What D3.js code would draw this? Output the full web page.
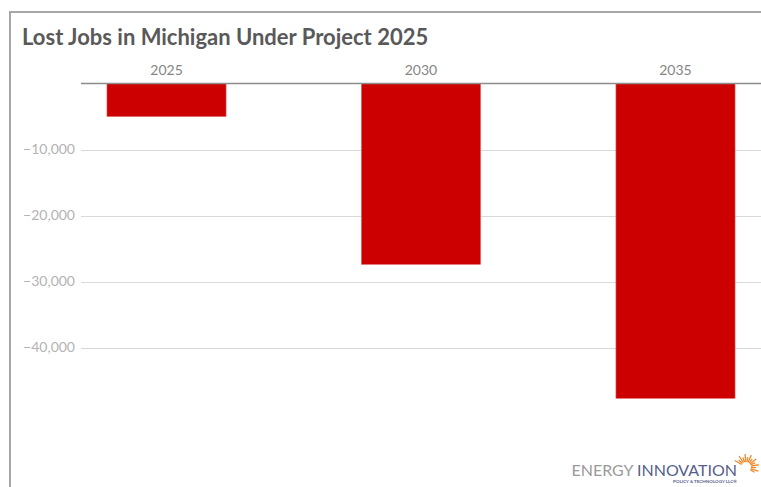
<!DOCTYPE html>
<html>
<head>
<meta charset="utf-8">
<script src="https://cdn.jsdelivr.net/npm/d3@7"></script>
<style>
  html, body { margin: 0; padding: 0; background: #fff; }
  #chart { width: 761px; height: 487px; }
</style>
</head>
<body>
<div id="chart"></div>
<script>
// Lost jobs in Michigan under Project 2025 (negative = jobs lost)
const years = ['2025', '2030', '2035'];
const lostJobs = [-5000, -27400, -47700];
const yTicks = [-10000, -20000, -30000, -40000];

(function(){
  const W = 761, H = 487;
  const svg = d3.select('#chart').append('svg').attr('width', W).attr('height', H);

  // outer frame (cropped at right/bottom)
  svg.append('rect').attr('x', 10).attr('y', 12).attr('width', 800).attr('height', 520)
    .attr('fill', '#fff').attr('stroke', '#a6a6a6').attr('stroke-width', 2);

  svg.append('text').attr('x', 22).attr('y', 45)
    .attr('font-family', 'Lato, "Open Sans", sans-serif').attr('font-weight', 700)
    .attr('font-size', '22px').attr('fill', '#595959')
    .text('Lost Jobs in Michigan Under Project 2025');

  const x = d3.scaleBand().domain(years).range([81, 761]).paddingInner(0.532).paddingOuter(0.102);
  const y = d3.scaleLinear().domain([0, -10000]).range([83.5, 149.5]);

  // gridlines
  const g = svg.append('g');
  g.selectAll('line.grid').data(yTicks).enter().append('line')
    .attr('x1', 81).attr('x2', 761)
    .attr('y1', d => Math.round(y(d)) + 0.5).attr('y2', d => Math.round(y(d)) + 0.5)
    .attr('stroke', '#d9d9d9').attr('stroke-width', 1);

  // y labels
  g.selectAll('text.ylab').data(yTicks).enter().append('text')
    .attr('x', 75).attr('y', d => y(d)).attr('dy', '0.35em')
    .attr('text-anchor', 'end').attr('font-family', 'Lato, sans-serif')
    .attr('font-size', '14px').attr('fill', '#b3b3b3')
    .text(d => d3.format(',')(d).replace('-', '\u2212'));

  // bars
  g.selectAll('rect.bar').data(years).enter().append('rect')
    .attr('x', d => x(d)).attr('width', x.bandwidth())
    .attr('y', y(0)).attr('height', (d, i) => y(lostJobs[i]) - y(0))
    .attr('fill', '#cc0000').attr('stroke', '#e06060').attr('stroke-width', 0.6);

  // zero axis line
  g.append('line').attr('x1', 81).attr('x2', 761).attr('y1', y(0)).attr('y2', y(0))
    .attr('stroke', '#8c8c8c').attr('stroke-width', 1.5);

  // category labels on top
  g.selectAll('text.xlab').data(years).enter().append('text')
    .attr('x', d => x(d) + x.bandwidth() / 2).attr('y', 75)
    .attr('text-anchor', 'middle').attr('font-family', 'Lato, sans-serif')
    .attr('font-size', '14px').attr('fill', '#858585')
    .text(d => d);

  // logo
  const logo = svg.append('g');
  const t = logo.append('text').attr('x', 737).attr('y', 476).attr('text-anchor', 'end')
    .attr('font-family', 'Lato, sans-serif').attr('font-size', '16px');
  t.append('tspan').attr('fill', '#9a9a9a').text('ENERGY ');
  t.append('tspan').attr('fill', '#55608c').text('INNOVATION');
  logo.append('text').attr('x', 737).attr('y', 483).attr('text-anchor', 'end')
    .attr('font-family', 'Lato, sans-serif').attr('font-size', '4.5px').attr('font-weight', 700)
    .attr('fill', '#55608c').text('POLICY & TECHNOLOGY LLC\u00ae');
  const cx = 746, cy = 467;
  const rays = d3.range(-150, 40, 14);
  logo.selectAll('line.ray').data(rays).enter().append('line')
    .attr('x1', a => cx + 5 * Math.cos(a * Math.PI / 180))
    .attr('y1', a => cy + 5 * Math.sin(a * Math.PI / 180))
    .attr('x2', (a, i) => cx + (i % 2 ? 10 : 13) * Math.cos(a * Math.PI / 180))
    .attr('y2', (a, i) => cy + (i % 2 ? 10 : 13) * Math.sin(a * Math.PI / 180))
    .attr('stroke', '#f08a2c').attr('stroke-width', 1.3);
})();
</script>
</body>
</html>
